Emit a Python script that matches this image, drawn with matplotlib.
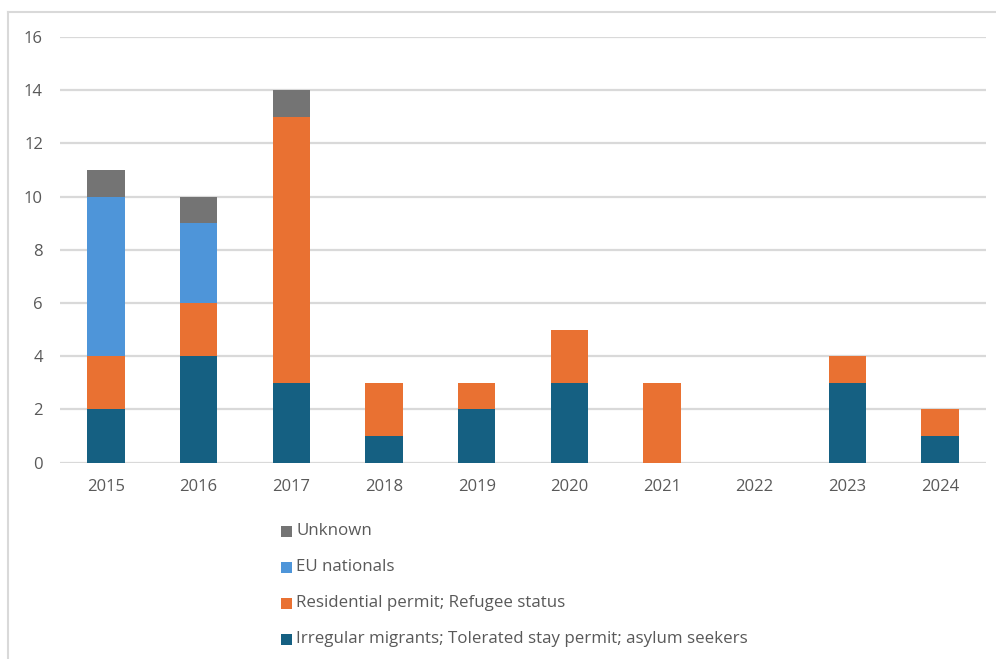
import matplotlib
matplotlib.use("Agg")
import matplotlib.pyplot as plt
from matplotlib.patches import Rectangle
from matplotlib.lines import Line2D
import numpy as np

years = ["2015", "2016", "2017", "2018", "2019", "2020", "2021", "2022", "2023", "2024"]
irregular = [2, 4, 3, 1, 2, 3, 0, 0, 3, 1]
residential = [2, 2, 10, 2, 1, 2, 3, 0, 1, 1]
eu_nationals = [6, 3, 0, 0, 0, 0, 0, 0, 0, 0]
unknown = [1, 1, 1, 0, 0, 0, 0, 0, 0, 0]
series_names = ["Irregular migrants; Tolerated stay permit; asylum seekers",
                "Residential permit; Refugee status",
                "EU nationals",
                "Unknown"]
yticks = [0, 2, 4, 6, 8, 10, 12, 14, 16]

colors = ["#156082", "#E97132", "#4E95D9", "#747474"]
text_color = "#595959"
grid_color = "#D9D9D9"

plt.rcParams['font.family'] = ['Open Sans', 'DejaVu Sans']

fig = plt.figure(figsize=(9.96, 6.59), dpi=100)
ax = fig.add_axes([0.0599, 0.2979, 0.9304, 0.6460])

x = np.arange(len(years))
bottom = np.zeros(len(years))
for vals, col in zip([irregular, residential, eu_nationals, unknown], colors):
    v = np.array(vals, dtype=float)
    ax.bar(x, v, bottom=bottom, width=0.4, color=col, edgecolor='none', zorder=3)
    bottom += v

ax.set_xlim(-0.5, len(years) - 0.5)
ax.set_ylim(0, 16)
ax.set_yticks(yticks)
ax.set_yticklabels([str(t) for t in yticks])
ax.set_xticks(x)
ax.set_xticklabels(years)
ax.tick_params(axis='both', length=0, labelsize=12, labelcolor=text_color)
ax.tick_params(axis='y', pad=12)
ax.tick_params(axis='x', pad=12)
ax.yaxis.grid(True, color=grid_color, linewidth=1.6, zorder=0)
ax.set_axisbelow(True)
for s in ax.spines.values():
    s.set_visible(False)

# Legend (manual, vertical, reversed order)
W, H = 996, 659
leg_y = [531, 567, 603, 639]
for i, (name, col) in enumerate(zip(series_names[::-1], colors[::-1])):
    yc = leg_y[i]
    fig.patches.append(Rectangle((281 / W, 1 - (yc + 5.5) / H), 11 / W, 11 / H,
                                 transform=fig.transFigure, facecolor=col,
                                 edgecolor='none'))
    fig.text(296 / W, 1 - yc / H, name, ha='left', va='center',
             fontsize=12.2, color=text_color)

# Chart area border (left & top visible)
fig.add_artist(Line2D([8 / W, 8 / W], [0, 1 - 12 / H], transform=fig.transFigure,
                      color=grid_color, linewidth=1.5))
fig.add_artist(Line2D([8 / W, 1], [1 - 12 / H, 1 - 12 / H], transform=fig.transFigure,
                      color=grid_color, linewidth=1.5))

fig.savefig("out.png", dpi=100)
